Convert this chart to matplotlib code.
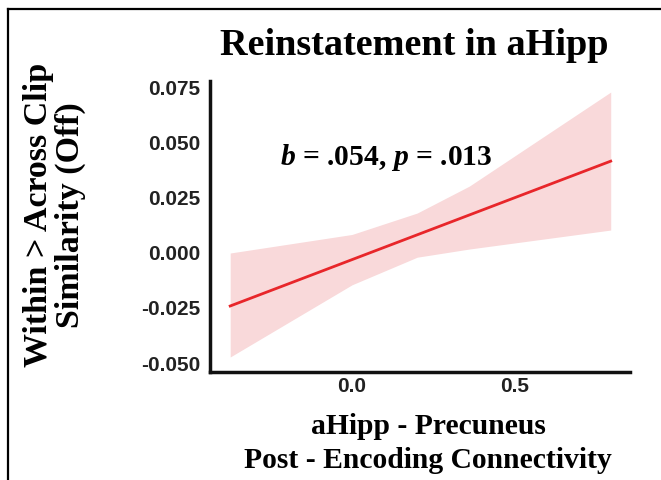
import matplotlib
matplotlib.use("Agg")
import matplotlib.pyplot as plt
from matplotlib.lines import Line2D

# regression line (end points) and confidence band
x_fit = [-0.374, 0.794]
y_fit = [-0.0246, 0.041]

x_band = [-0.374, 0.0, 0.2, 0.36, 0.794]
band_hi = [-0.0006, 0.0078, 0.0175, 0.0297, 0.0723]
band_lo = [-0.0477, -0.015, -0.0025, 0.0012, 0.0098]

y_ticks = [-0.050, -0.025, 0.000, 0.025, 0.050, 0.075]
x_ticks = [0.0, 0.5]

plt.rcParams['mathtext.fontset'] = 'custom'
plt.rcParams['mathtext.rm'] = 'Liberation Serif:bold'
plt.rcParams['mathtext.it'] = 'Liberation Serif:italic:bold'

serif = 'Liberation Serif'
sans = 'Liberation Sans'

fig = plt.figure(figsize=(6.61, 4.81), dpi=100)
ax = fig.add_axes([0.3177, 0.2245, 0.6353, 0.605])

ax.fill_between(x_band, band_lo, band_hi, color='#f9d9da', linewidth=0)
ax.plot(x_fit, y_fit, color='#e8262a', linewidth=2)

ax.set_xlim(-0.436, 0.853)
ax.set_ylim(-0.0545, 0.0773)
ax.set_yticks(y_ticks)
ax.set_yticklabels([f"{v:.3f}" for v in y_ticks])
ax.set_xticks(x_ticks)
ax.set_xticklabels([f"{v:.1f}" for v in x_ticks])
ax.tick_params(length=0, labelsize=15, labelcolor='#222222')
ax.tick_params(axis='y', pad=7)
ax.tick_params(axis='x', pad=3)
for lab in ax.get_xticklabels() + ax.get_yticklabels():
    lab.set_fontfamily(sans)
    lab.set_fontweight('bold')

for s in ['top', 'right']:
    ax.spines[s].set_visible(False)
for s in ['left', 'bottom']:
    ax.spines[s].set_linewidth(2.5)
    ax.spines[s].set_color('#111111')

ax.text(-0.22, 0.0433, r'$b$ = .054, $p$ = .013', fontsize=21.3,
        fontfamily=serif, fontweight='bold', va='center', ha='left')

fig.text(0.626, 0.906, 'Reinstatement in aHipp', fontsize=27.5,
         fontfamily=serif, fontweight='bold', ha='center', va='center')
fig.text(0.083, 0.553, 'Within > Across Clip\nSimilarity (Off)', fontsize=24.5,
         fontfamily=serif, fontweight='bold', ha='center', va='center',
         rotation=90, linespacing=1.03)
fig.text(0.648, 0.078, 'aHipp - Precuneus\nPost - Encoding Connectivity',
         fontsize=21.3, fontfamily=serif, fontweight='bold',
         ha='center', va='center', linespacing=1.3)

# panel frame (top and left edges)
fig.add_artist(Line2D([0.012, 1.0], [0.979, 0.979], color='black', linewidth=1.6))
fig.add_artist(Line2D([0.012, 0.012], [0.0, 0.979], color='black', linewidth=1.6))

fig.savefig('out.png', dpi=100)
